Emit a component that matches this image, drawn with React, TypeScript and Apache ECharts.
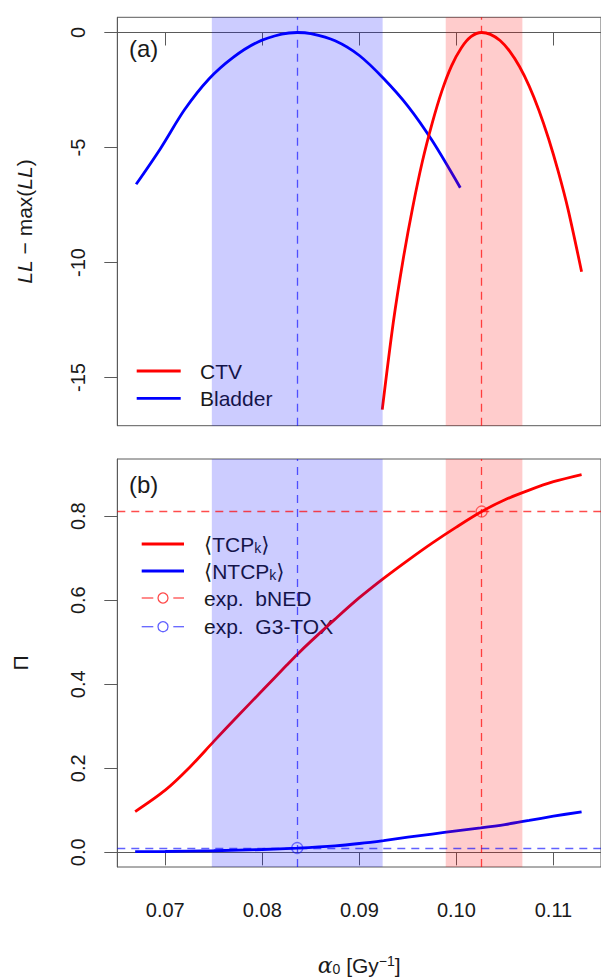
import React, { useEffect, useRef } from 'react';
import * as echarts from 'echarts';

// ---- data ----
const xTicks = [0.07, 0.08, 0.09, 0.1, 0.11];
const llTicks = [-15, -10, -5, 0];
const piTicks = [0, 0.2, 0.4, 0.6, 0.8];

const alphaCTV = [0.09236, 0.0935, 0.0945, 0.0955, 0.0965, 0.0975, 0.0985, 0.0995, 0.1005, 0.1015, 0.1026, 0.1035, 0.1045, 0.1055, 0.1065, 0.1075, 0.1085, 0.1095, 0.1105, 0.1115, 0.1129];
const llCTV = [-16.4, -12.6, -9.9, -7.6, -5.6, -3.95, -2.55, -1.45, -0.67, -0.18, 0, -0.08, -0.35, -0.82, -1.48, -2.33, -3.38, -4.62, -6.05, -7.68, -10.4];

const alphaBladder = [0.067, 0.0695, 0.072, 0.0745, 0.077, 0.0795, 0.082, 0.0836, 0.085, 0.0875, 0.09, 0.0925, 0.095, 0.0975, 0.1004];
const llBladder = [-6.6, -5.05, -3.35, -2.02, -1.08, -0.42, -0.07, 0, -0.05, -0.36, -1.0, -2.0, -3.2, -4.7, -6.75];

const alphaTCP = [0.0669, 0.07, 0.0725, 0.075, 0.0775, 0.08, 0.0825, 0.0836, 0.085, 0.0875, 0.09, 0.0925, 0.095, 0.0975, 0.1, 0.1026, 0.105, 0.1075, 0.11, 0.1129];
const tcpK = [0.097, 0.148, 0.202, 0.264, 0.325, 0.385, 0.445, 0.471, 0.502, 0.555, 0.606, 0.652, 0.695, 0.736, 0.774, 0.811, 0.839, 0.862, 0.882, 0.899];

const alphaNTCP = [0.0669, 0.07, 0.075, 0.08, 0.0836, 0.0875, 0.09, 0.0925, 0.095, 0.0975, 0.1, 0.1025, 0.105, 0.1075, 0.11, 0.1129];
const ntcpK = [0.0015, 0.002, 0.0038, 0.0067, 0.0102, 0.0155, 0.021, 0.028, 0.036, 0.0435, 0.051, 0.058, 0.066, 0.076, 0.086, 0.0965];

const bladderCI = [0.0748, 0.0924];
const bladderBest = 0.0836;
const ctvCI = [0.0989, 0.1068];
const ctvBest = 0.1026;
const expBNED = 0.811;
const expG3TOX = 0.0102;

const FONT = '"Liberation Sans", "DejaVu Sans", Arial, sans-serif';
const TXT = '#1a1a1a';
const AX = '#5a5a5a';
const RED = '#ff0000';
const BLUE = '#0000ff';
const RED_BAND = 'rgba(255,0,0,0.2)';
const BLUE_BAND = 'rgba(0,0,255,0.2)';
const RED_DASH = 'rgba(255,0,0,0.7)';
const BLUE_DASH = 'rgba(0,0,255,0.62)';

const zip = (xs: number[], ys: number[]) => xs.map((x, i) => [x, ys[i]]);

const X_MIN = 0.06506;
const X_MAX = 0.1149;

export default function App() {
  const ref = useRef<HTMLDivElement>(null);
  useEffect(() => {
    if (!ref.current) return;
    const chart = echarts.init(ref.current, undefined, { renderer: 'svg' });

    const xAxisBase = (gridIndex: number, showLabels: boolean) => ({
      type: 'value',
      gridIndex,
      min: X_MIN,
      max: X_MAX,
      axisLine: { show: true, lineStyle: { color: AX, width: 1 } },
      axisTick: { show: true, inside: false, length: 13, customValues: xTicks, lineStyle: { color: AX, width: 1 } },
      axisLabel: {
        show: showLabels,
        customValues: xTicks,
        margin: 33,
        fontSize: 20,
        fontFamily: FONT,
        color: TXT,
        formatter: (v: number) => v.toFixed(2),
      },
      splitLine: { show: false },
    });

    const dashLines = (data: any[], color: string) => ({
      silent: true,
      symbol: 'none',
      precision: 6,
      label: { show: false },
      lineStyle: { type: [8, 6], color, width: 1.3 },
      data,
      z: 5,
    });

    const band = (ci: number[], color: string) => ({
      silent: true,
      z: 3,
      precision: 6,
      itemStyle: { color },
      data: [[{ xAxis: ci[0] }, { xAxis: ci[1] }]],
    });

    const option: any = {
      animation: false,
      grid: [
        { left: 117.3, top: 17.3, right: -8, height: 408.4, show: true, borderColor: AX, borderWidth: 1, backgroundColor: 'transparent' },
        { left: 117.3, top: 459, right: -8, height: 409, show: true, borderColor: AX, borderWidth: 1, backgroundColor: 'transparent' },
      ],
      xAxis: [
        xAxisBase(0, false),
        {
          ...xAxisBase(1, true),
          name: '{i|α}{s|0} [Gy{p|−1}]',
          nameLocation: 'middle',
          nameGap: 87,
          nameTextStyle: {
            fontSize: 21,
            fontFamily: FONT,
            color: TXT,
            rich: {
              i: { fontSize: 22, fontStyle: 'italic', fontFamily: '"DejaVu Serif", serif', color: TXT },
              s: { fontSize: 14, fontFamily: FONT, color: TXT, verticalAlign: 'bottom', lineHeight: 8 },
              p: { fontSize: 14, fontFamily: FONT, color: TXT, verticalAlign: 'top', lineHeight: 10 },
            },
          },
        },
      ],
      yAxis: [
        {
          type: 'value',
          gridIndex: 0,
          min: -17.096,
          max: 0.661,
          axisLine: { show: true, lineStyle: { color: AX } },
          axisTick: { show: true, length: 13, customValues: llTicks, lineStyle: { color: AX } },
          axisLabel: { customValues: llTicks, rotate: 90, margin: 29, fontSize: 20, fontFamily: FONT, color: TXT },
          splitLine: { show: false },
          name: '{i|LL} − max({i|LL})',
          nameLocation: 'middle',
          nameRotate: 90,
          nameGap: 82,
          nameTextStyle: {
            fontSize: 21,
            fontFamily: FONT,
            color: TXT,
            rich: { i: { fontSize: 21, fontStyle: 'italic', fontFamily: FONT, color: TXT } },
          },
        },
        {
          type: 'value',
          gridIndex: 1,
          min: -0.0349,
          max: 0.936,
          axisLine: { show: true, lineStyle: { color: AX } },
          axisTick: { show: true, length: 13, customValues: piTicks, lineStyle: { color: AX } },
          axisLabel: {
            customValues: piTicks,
            rotate: 90,
            margin: 29,
            fontSize: 20,
            fontFamily: FONT,
            color: TXT,
            formatter: (v: number) => v.toFixed(1),
          },
          splitLine: { show: false },
          name: 'Π',
          nameLocation: 'middle',
          nameRotate: 90,
          nameGap: 86,
          nameTextStyle: { fontSize: 21, fontFamily: FONT, color: TXT },
        },
      ],
      series: [
        {
          name: 'Bladder',
          type: 'line',
          xAxisIndex: 0,
          yAxisIndex: 0,
          data: zip(alphaBladder, llBladder),
          smooth: 0.3,
          showSymbol: false,
          lineStyle: { color: BLUE, width: 2.8 },
          z: 2,
          markArea: band(bladderCI, BLUE_BAND),
          markLine: dashLines([{ xAxis: bladderBest }], BLUE_DASH),
        },
        {
          name: 'CTV',
          type: 'line',
          xAxisIndex: 0,
          yAxisIndex: 0,
          data: zip(alphaCTV, llCTV),
          smooth: 0.3,
          showSymbol: false,
          lineStyle: { color: RED, width: 2.8 },
          z: 2,
          markArea: band(ctvCI, RED_BAND),
          markLine: dashLines([{ xAxis: ctvBest }], RED_DASH),
        },
        {
          name: '⟨TCPk⟩',
          type: 'line',
          xAxisIndex: 1,
          yAxisIndex: 1,
          data: zip(alphaTCP, tcpK),
          smooth: 0.3,
          showSymbol: false,
          lineStyle: { color: RED, width: 2.8 },
          z: 2,
          markArea: band(ctvCI, RED_BAND),
          markLine: dashLines([{ xAxis: ctvBest }, { yAxis: expBNED }], RED_DASH),
        },
        {
          name: '⟨NTCPk⟩',
          type: 'line',
          xAxisIndex: 1,
          yAxisIndex: 1,
          data: zip(alphaNTCP, ntcpK),
          smooth: 0.3,
          showSymbol: false,
          lineStyle: { color: BLUE, width: 2.8 },
          z: 2,
          markArea: band(bladderCI, BLUE_BAND),
          markLine: dashLines([{ xAxis: bladderBest }, { yAxis: expG3TOX }], BLUE_DASH),
        },
        {
          name: 'exp. bNED',
          type: 'scatter',
          xAxisIndex: 1,
          yAxisIndex: 1,
          data: [[ctvBest, expBNED]],
          symbol: 'circle',
          symbolSize: 11,
          itemStyle: { color: 'rgba(0,0,0,0)', borderColor: RED_DASH, borderWidth: 1.3 },
          z: 6,
        },
        {
          name: 'exp. G3-TOX',
          type: 'scatter',
          xAxisIndex: 1,
          yAxisIndex: 1,
          data: [[bladderBest, expG3TOX]],
          symbol: 'circle',
          symbolSize: 11,
          itemStyle: { color: 'rgba(0,0,0,0)', borderColor: BLUE_DASH, borderWidth: 1.3 },
          z: 6,
        },
      ],
      graphic: [
        // panel labels
        { type: 'text', left: 129, top: 36, style: { text: '(a)', fontSize: 24, fontFamily: FONT, fill: TXT } },
        { type: 'text', left: 129, top: 472, style: { text: '(b)', fontSize: 24, fontFamily: FONT, fill: TXT } },
        // legend (a)
        { type: 'line', shape: { x1: 136.7, y1: 371, x2: 180.7, y2: 371 }, style: { stroke: RED, lineWidth: 2.8 } },
        { type: 'text', x: 200, y: 371, style: { text: 'CTV', fontSize: 21, fontFamily: FONT, fill: TXT, verticalAlign: 'middle' } },
        { type: 'line', shape: { x1: 136.7, y1: 398.3, x2: 180.7, y2: 398.3 }, style: { stroke: BLUE, lineWidth: 2.8 } },
        { type: 'text', x: 200, y: 398.3, style: { text: 'Bladder', fontSize: 21, fontFamily: FONT, fill: TXT, verticalAlign: 'middle' } },
        // legend (b)
        { type: 'line', shape: { x1: 141.7, y1: 544, x2: 184, y2: 544 }, style: { stroke: RED, lineWidth: 2.8 } },
        {
          type: 'text', x: 204, y: 544,
          style: {
            text: '⟨TCP{k|k}⟩', fontSize: 21, fontFamily: FONT, fill: TXT, verticalAlign: 'middle',
            rich: { k: { fontSize: 14, fontFamily: FONT, fill: TXT, verticalAlign: 'bottom', lineHeight: 8 } },
          },
        },
        { type: 'line', shape: { x1: 141.7, y1: 571, x2: 184, y2: 571 }, style: { stroke: BLUE, lineWidth: 2.8 } },
        {
          type: 'text', x: 204, y: 571,
          style: {
            text: '⟨NTCP{k|k}⟩', fontSize: 21, fontFamily: FONT, fill: TXT, verticalAlign: 'middle',
            rich: { k: { fontSize: 14, fontFamily: FONT, fill: TXT, verticalAlign: 'bottom', lineHeight: 8 } },
          },
        },
        { type: 'line', shape: { x1: 141.7, y1: 598, x2: 153.3, y2: 598 }, style: { stroke: RED_DASH, lineWidth: 1.3 } },
        { type: 'circle', shape: { cx: 163, cy: 598, r: 5 }, style: { stroke: RED_DASH, fill: 'none', lineWidth: 1.3 } },
        { type: 'line', shape: { x1: 173.3, y1: 598, x2: 184, y2: 598 }, style: { stroke: RED_DASH, lineWidth: 1.3 } },
        { type: 'text', x: 204, y: 598, style: { text: 'exp.\u00a0\u00a0bNED', fontSize: 21, fontFamily: FONT, fill: TXT, verticalAlign: 'middle' } },
        { type: 'line', shape: { x1: 141.7, y1: 626.7, x2: 153.3, y2: 626.7 }, style: { stroke: BLUE_DASH, lineWidth: 1.3 } },
        { type: 'circle', shape: { cx: 163, cy: 626.7, r: 5 }, style: { stroke: BLUE_DASH, fill: 'none', lineWidth: 1.3 } },
        { type: 'line', shape: { x1: 173.3, y1: 626.7, x2: 184, y2: 626.7 }, style: { stroke: BLUE_DASH, lineWidth: 1.3 } },
        { type: 'text', x: 204, y: 626.7, style: { text: 'exp.\u00a0\u00a0G3-TOX', fontSize: 21, fontFamily: FONT, fill: TXT, verticalAlign: 'middle' } },
      ],
    };
    chart.setOption(option);
    return () => chart.dispose();
  }, []);
  return <div ref={ref} style={{ position: 'fixed', left: 0, top: 0, width: 601, height: 977, background: '#fff' }} />;
}
